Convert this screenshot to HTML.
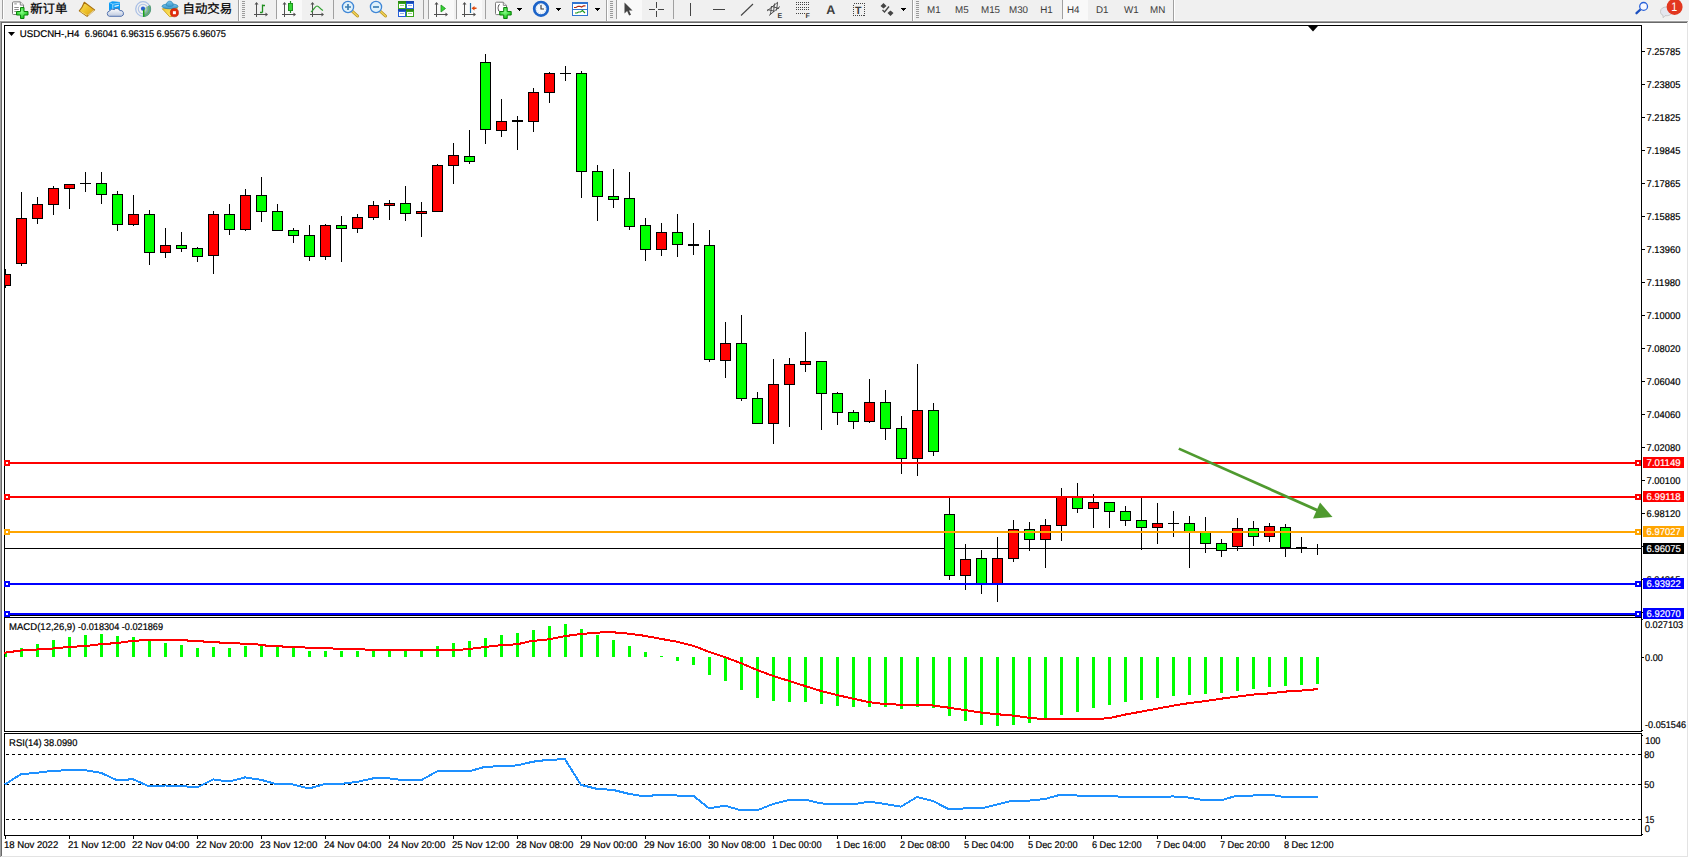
<!DOCTYPE html>
<html><head><meta charset="utf-8"><title>USDCNH-,H4</title>
<style>
html,body{margin:0;padding:0;background:#fff}
#app{position:relative;width:1689px;height:858px;overflow:hidden;background:#fff}
svg{position:absolute;left:0;top:0;display:block}
text{font-family:"Liberation Sans","Noto Sans CJK SC",sans-serif;font-size:9.8px;fill:#000;stroke:#000;stroke-width:.2px;text-rendering:geometricPrecision}
.cj{font-size:12.4px;stroke-width:.25px}
.tf{fill:#3c3c3c;stroke:none}
.w{fill:#fff;stroke:#fff}
</style></head><body><div id="app">
<svg width="1689" height="858" viewBox="0 0 1689 858">
<g shape-rendering="crispEdges">
<rect x="0" y="0" width="1689" height="21" fill="#f0f0f0"/><rect x="0" y="20" width="1689" height="1" fill="#f8f8f8"/>
<rect x="0" y="21" width="1688" height="1" fill="#a0a0a0"/><rect x="1" y="22" width="1686" height="1" fill="#696969"/>
<rect x="0" y="21" width="1" height="836" fill="#a0a0a0"/><rect x="1" y="22" width="1" height="834" fill="#696969"/>
<rect x="1687" y="22" width="1" height="835" fill="#e3e3e3"/><rect x="1" y="856" width="1687" height="1" fill="#e3e3e3"/>
<rect x="1688" y="22" width="1" height="836" fill="#fff"/><rect x="0" y="857" width="1689" height="1" fill="#fff"/>
<rect x="4" y="25" width="1638" height="1"/><rect x="4" y="25" width="1" height="591"/><rect x="4" y="615" width="1638" height="1"/><rect x="1641" y="25" width="1" height="707"/><rect x="1641" y="733" width="1" height="103"/><rect x="4" y="617" width="1638" height="1"/><rect x="4" y="617" width="1" height="115"/><rect x="4" y="731" width="1638" height="1"/><rect x="4" y="733" width="1638" height="1"/><rect x="4" y="733" width="1" height="103"/><rect x="4" y="835" width="1638" height="1"/>
<path d="M1642 51h3v1h-3zM1642 84h3v1h-3zM1642 117h3v1h-3zM1642 150h3v1h-3zM1642 183h3v1h-3zM1642 216h3v1h-3zM1642 249h3v1h-3zM1642 282h3v1h-3zM1642 315h3v1h-3zM1642 348h3v1h-3zM1642 381h3v1h-3zM1642 414h3v1h-3zM1642 447h3v1h-3zM1642 480h3v1h-3zM1642 513h3v1h-3zM1642 546h3v1h-3zM1642 579h3v1h-3zM1642 657h2v1h-2zM1642 612h1v1h-1zM1642 619h1v1h-1zM1642 730h1v1h-1zM1642 735h1v1h-1zM1642 834h1v1h-1z"/>
<path d="M5 836h1v3h-1zM69 836h1v3h-1zM133 836h1v3h-1zM197 836h1v3h-1zM261 836h1v3h-1zM325 836h1v3h-1zM389 836h1v3h-1zM453 836h1v3h-1zM517 836h1v3h-1zM581 836h1v3h-1zM645 836h1v3h-1zM709 836h1v3h-1zM773 836h1v3h-1zM837 836h1v3h-1zM901 836h1v3h-1zM965 836h1v3h-1zM1029 836h1v3h-1zM1093 836h1v3h-1zM1157 836h1v3h-1zM1221 836h1v3h-1zM1285 836h1v3h-1z"/>
<path d="M1308 26h10l-5 5.5z" shape-rendering="auto"/>
<rect x="5" y="548" width="1636" height="1"/>
<path d="M5 269h1v19h-1zM4 274h7v12h-7zM21 192h1v74h-1zM16 218h11v46h-11zM37 197h1v27h-1zM32 204h11v15h-11zM53 186h1v29h-1zM48 188h11v17h-11zM69 184h1v25h-1zM64 184h11v5h-11zM85 172h1v20h-1zM80 183h11v1h-11zM101 172h1v32h-1zM96 183h11v12h-11zM117 191h1v40h-1zM112 194h11v31h-11zM133 195h1v31h-1zM128 214h11v11h-11zM149 210h1v55h-1zM144 214h11v39h-11zM165 228h1v30h-1zM160 245h11v8h-11zM181 232h1v20h-1zM176 245h11v4h-11zM197 247h1v15h-1zM192 248h11v9h-11zM213 211h1v63h-1zM208 214h11v42h-11zM229 204h1v31h-1zM224 214h11v16h-11zM245 189h1v42h-1zM240 195h11v35h-11zM261 177h1v45h-1zM256 195h11v17h-11zM277 204h1v27h-1zM272 211h11v20h-11zM293 228h1v15h-1zM288 230h11v6h-11zM309 225h1v36h-1zM304 235h11v22h-11zM325 224h1v36h-1zM320 225h11v32h-11zM341 216h1v46h-1zM336 225h11v4h-11zM357 214h1v19h-1zM352 217h11v12h-11zM373 201h1v19h-1zM368 205h11v13h-11zM389 200h1v20h-1zM384 203h11v3h-11zM405 186h1v35h-1zM400 203h11v11h-11zM421 202h1v35h-1zM416 211h11v3h-11zM437 164h1v48h-1zM432 165h11v47h-11zM453 143h1v41h-1zM448 155h11v11h-11zM469 130h1v34h-1zM464 156h11v6h-11zM485 54h1v90h-1zM480 62h11v68h-11zM501 99h1v38h-1zM496 121h11v10h-11zM517 116h1v34h-1zM512 120h11v2h-11zM533 88h1v44h-1zM528 92h11v30h-11zM549 72h1v31h-1zM544 73h11v20h-11zM565 66h1v15h-1zM560 73h11v1h-11zM581 71h1v127h-1zM576 73h11v99h-11zM597 165h1v56h-1zM592 171h11v26h-11zM613 169h1v39h-1zM608 196h11v4h-11zM629 172h1v58h-1zM624 198h11v29h-11zM645 218h1v43h-1zM640 225h11v25h-11zM661 223h1v33h-1zM656 232h11v18h-11zM677 214h1v43h-1zM672 232h11v13h-11zM693 223h1v32h-1zM688 244h11v2h-11zM709 230h1v132h-1zM704 245h11v115h-11zM725 322h1v56h-1zM720 343h11v18h-11zM741 315h1v86h-1zM736 343h11v56h-11zM757 392h1v32h-1zM752 398h11v26h-11zM773 359h1v85h-1zM768 384h11v40h-11zM789 358h1v69h-1zM784 364h11v21h-11zM805 332h1v40h-1zM800 361h11v4h-11zM821 361h1v69h-1zM816 361h11v33h-11zM837 392h1v33h-1zM832 393h11v20h-11zM853 410h1v19h-1zM848 412h11v10h-11zM869 379h1v44h-1zM864 402h11v20h-11zM885 390h1v50h-1zM880 402h11v27h-11zM901 416h1v58h-1zM896 428h11v31h-11zM917 364h1v112h-1zM912 410h11v49h-11zM933 403h1v53h-1zM928 410h11v42h-11zM949 498h1v82h-1zM944 514h11v62h-11zM965 544h1v46h-1zM960 559h11v17h-11zM981 550h1v44h-1zM976 558h11v26h-11zM997 537h1v65h-1zM992 558h11v26h-11zM1013 520h1v42h-1zM1008 529h11v30h-11zM1029 522h1v29h-1zM1024 529h11v11h-11zM1045 519h1v49h-1zM1040 525h11v15h-11zM1061 488h1v53h-1zM1056 496h11v30h-11zM1077 483h1v30h-1zM1072 497h11v12h-11zM1093 494h1v34h-1zM1088 502h11v7h-11zM1109 502h1v26h-1zM1104 502h11v10h-11zM1125 506h1v20h-1zM1120 511h11v10h-11zM1141 498h1v52h-1zM1136 520h11v8h-11zM1157 503h1v41h-1zM1152 523h11v5h-11zM1173 511h1v26h-1zM1168 523h11v1h-11zM1189 516h1v52h-1zM1184 523h11v9h-11zM1205 517h1v36h-1zM1200 532h11v12h-11zM1221 539h1v18h-1zM1216 543h11v8h-11zM1237 518h1v33h-1zM1232 528h11v19h-11zM1253 521h1v25h-1zM1248 528h11v9h-11zM1269 523h1v19h-1zM1264 526h11v11h-11zM1285 524h1v33h-1zM1280 527h11v21h-11zM1301 537h1v16h-1zM1296 547h11v1h-11zM1317 544h1v11h-1zM1312 548h11v1h-11z"/>
<path d="M5 275h5v10h-5zM17 219h9v44h-9zM33 205h9v13h-9zM49 189h9v15h-9zM65 185h9v3h-9zM129 215h9v9h-9zM161 246h9v6h-9zM209 215h9v40h-9zM241 196h9v33h-9zM321 226h9v30h-9zM353 218h9v10h-9zM369 206h9v11h-9zM385 204h9v1h-9zM417 212h9v1h-9zM433 166h9v45h-9zM449 156h9v9h-9zM497 122h9v8h-9zM529 93h9v28h-9zM545 74h9v18h-9zM657 233h9v16h-9zM721 344h9v16h-9zM769 385h9v38h-9zM785 365h9v19h-9zM801 362h9v2h-9zM865 403h9v18h-9zM913 411h9v47h-9zM961 560h9v15h-9zM993 559h9v24h-9zM1009 530h9v28h-9zM1041 526h9v13h-9zM1057 497h9v28h-9zM1089 503h9v5h-9zM1153 524h9v3h-9zM1233 529h9v17h-9zM1265 527h9v9h-9z" fill="#f00"/>
<path d="M97 184h9v10h-9zM113 195h9v29h-9zM145 215h9v37h-9zM177 246h9v2h-9zM193 249h9v7h-9zM225 215h9v14h-9zM257 196h9v15h-9zM273 212h9v18h-9zM289 231h9v4h-9zM305 236h9v20h-9zM337 226h9v2h-9zM401 204h9v9h-9zM465 157h9v4h-9zM481 63h9v66h-9zM577 74h9v97h-9zM593 172h9v24h-9zM609 197h9v2h-9zM625 199h9v27h-9zM641 226h9v23h-9zM673 233h9v11h-9zM705 246h9v113h-9zM737 344h9v54h-9zM753 399h9v24h-9zM817 362h9v31h-9zM833 394h9v18h-9zM849 413h9v8h-9zM881 403h9v25h-9zM897 429h9v29h-9zM929 411h9v40h-9zM945 515h9v60h-9zM977 559h9v24h-9zM1025 530h9v9h-9zM1073 498h9v10h-9zM1105 503h9v8h-9zM1121 512h9v8h-9zM1137 521h9v6h-9zM1185 524h9v7h-9zM1201 533h9v10h-9zM1217 544h9v6h-9zM1249 529h9v7h-9zM1281 528h9v19h-9z" fill="#0f0"/>
<rect x="1643" y="543" width="41" height="11"/>
<rect x="5" y="462" width="1636" height="2" fill="#f00"/><rect x="4" y="460" width="6" height="6" fill="#f00"/><rect x="6" y="462" width="2" height="2" fill="#fff"/><rect x="1635" y="460" width="6" height="6" fill="#f00"/><rect x="1637" y="462" width="2" height="2" fill="#fff"/><rect x="1643" y="457" width="41" height="11" fill="#f00"/>
<rect x="5" y="496" width="1636" height="2" fill="#f00"/><rect x="4" y="494" width="6" height="6" fill="#f00"/><rect x="6" y="496" width="2" height="2" fill="#fff"/><rect x="1635" y="494" width="6" height="6" fill="#f00"/><rect x="1637" y="496" width="2" height="2" fill="#fff"/><rect x="1643" y="491" width="41" height="11" fill="#f00"/>
<rect x="5" y="531" width="1636" height="2" fill="#ffa500"/><rect x="4" y="529" width="6" height="6" fill="#ffa500"/><rect x="6" y="531" width="2" height="2" fill="#fff"/><rect x="1635" y="529" width="6" height="6" fill="#ffa500"/><rect x="1637" y="531" width="2" height="2" fill="#fff"/><rect x="1643" y="526" width="41" height="11" fill="#ffa500"/>
<rect x="5" y="583" width="1636" height="2" fill="#00f"/><rect x="4" y="581" width="6" height="6" fill="#00f"/><rect x="6" y="583" width="2" height="2" fill="#fff"/><rect x="1635" y="581" width="6" height="6" fill="#00f"/><rect x="1637" y="583" width="2" height="2" fill="#fff"/><rect x="1643" y="578" width="41" height="11" fill="#00f"/>
<rect x="5" y="613" width="1636" height="2" fill="#00f"/><rect x="4" y="611" width="6" height="6" fill="#00f"/><rect x="6" y="613" width="2" height="2" fill="#fff"/><rect x="1635" y="611" width="6" height="6" fill="#00f"/><rect x="1637" y="613" width="2" height="2" fill="#fff"/><rect x="1643" y="608" width="41" height="11" fill="#00f"/>
<path d="M5 653h2v4h-2zM20 648h3v9h-3zM36 644h3v13h-3zM52 640h3v17h-3zM68 637h3v20h-3zM84 635h3v22h-3zM100 634h3v23h-3zM116 636h3v21h-3zM132 637h3v20h-3zM148 641h3v16h-3zM164 643h3v14h-3zM180 645h3v12h-3zM196 648h3v9h-3zM212 647h3v10h-3zM228 648h3v9h-3zM244 646h3v11h-3zM260 646h3v11h-3zM276 647h3v10h-3zM292 648h3v9h-3zM308 651h3v6h-3zM324 651h3v6h-3zM340 651h3v6h-3zM356 651h3v6h-3zM372 650h3v7h-3zM388 650h3v7h-3zM404 651h3v6h-3zM420 651h3v6h-3zM436 646h3v11h-3zM452 643h3v14h-3zM468 641h3v16h-3zM484 638h3v19h-3zM500 635h3v22h-3zM516 633h3v24h-3zM532 630h3v27h-3zM548 626h3v31h-3zM564 624h3v33h-3zM580 629h3v28h-3zM596 635h3v22h-3zM612 640h3v17h-3zM628 646h3v11h-3zM644 652h3v5h-3zM660 656h3v1h-3zM676 657h3v4h-3zM692 657h3v8h-3zM708 657h3v18h-3zM724 657h3v24h-3zM740 657h3v33h-3zM756 657h3v41h-3zM772 657h3v44h-3zM788 657h3v45h-3zM804 657h3v45h-3zM820 657h3v47h-3zM836 657h3v49h-3zM852 657h3v50h-3zM868 657h3v50h-3zM884 657h3v50h-3zM900 657h3v52h-3zM916 657h3v50h-3zM932 657h3v51h-3zM948 657h3v59h-3zM964 657h3v64h-3zM980 657h3v68h-3zM996 657h3v69h-3zM1012 657h3v68h-3zM1028 657h3v66h-3zM1044 657h3v62h-3zM1060 657h3v58h-3zM1076 657h3v55h-3zM1092 657h3v51h-3zM1108 657h3v48h-3zM1124 657h3v45h-3zM1140 657h3v43h-3zM1156 657h3v41h-3zM1172 657h3v39h-3zM1188 657h3v38h-3zM1204 657h3v37h-3zM1220 657h3v36h-3zM1236 657h3v34h-3zM1252 657h3v32h-3zM1268 657h3v30h-3zM1284 657h3v29h-3zM1300 657h3v28h-3zM1316 657h3v27h-3z" fill="#0f0"/>
<polyline points="4,652.8 21,650.5 37,649.5 53,648.5 69,646.9 85,646.1 101,644.1 117,643.1 133,640.7 151,640.1 181,640.1 197,641.1 213,642.1 229,643.1 245,643.7 261,644.7 270,646.3 294,646.7 310,647.9 330,648.3 341,649.1 389,649.9 451,650.3 469,649.1 479,647.7 491,646.3 501,645.1 517,644.3 531,641.1 549,639.3 565,636.1 581,634.0 597,632.6 612,632.2 628,633.6 644,635.7 661,638.9 677,641.7 693,645.7 709,651.8 725,657.2 741,663.2 757,669.9 773,675.9 789,680.9 805,686.0 821,691.0 837,695.0 853,698.7 869,702.1 885,704.1 901,704.7 917,705.1 933,705.5 949,707.7 965,710.1 981,712.5 997,714.2 1013,715.6 1029,717.8 1045,719.2 1061,719.4 1077,719.4 1093,719.2 1109,718.2 1125,714.6 1141,711.7 1157,708.7 1173,705.7 1189,703.1 1205,701.1 1221,698.7 1237,696.6 1253,694.6 1269,693.4 1285,691.6 1301,690.6 1317,689.2 1318,689.2" fill="none" stroke="#f00" stroke-width="2"/>
<path d="M6 754.5H1641" stroke="#000" stroke-width="1" stroke-dasharray="3 3" fill="none"/><path d="M6 784.5H1641" stroke="#000" stroke-width="1" stroke-dasharray="3 3" fill="none"/><path d="M6 819.5H1641" stroke="#000" stroke-width="1" stroke-dasharray="3 3" fill="none"/>
<polyline points="5,784.3 21,774.2 37,772.8 53,770.8 69,770.2 85,770.2 101,772.8 117,780.3 133,779.2 149,786.3 165,785.5 181,785.9 197,787.5 213,779.4 229,781.5 245,777.4 261,779.8 277,784.3 293,784.5 309,788.5 325,783.9 341,783.9 357,781.9 373,778.4 389,778.4 405,780.3 421,780.3 437,771.4 453,771.4 469,771.4 485,766.8 501,766.2 517,765.4 533,761.7 549,759.7 565,759.3 581,784.9 597,788.9 613,789.9 629,793.9 645,796.4 661,794.5 677,795.5 693,795.5 709,808.4 725,805.6 741,810.4 757,810.4 773,804.0 789,800.0 805,799.6 821,803.4 837,804.4 853,804.4 869,801.6 885,804.0 901,806.6 917,797.0 933,801.0 949,809.4 965,808.4 981,808.4 997,804.6 1013,800.6 1029,800.6 1045,799.0 1061,794.5 1077,795.5 1093,795.5 1109,795.5 1125,797.2 1141,797.2 1157,797.2 1173,796.4 1189,797.6 1205,800.4 1221,800.4 1237,795.5 1253,795.5 1269,794.5 1285,797.2 1301,797.2 1317,797.2 1318,797.2" fill="none" stroke="#1e90ff" stroke-width="2"/>
</g>
<g fill="#4f9a2f" stroke="none"><path d="M1178.2 449.8L1179.4 447.4L1321 510.3L1319.8 512.9z"/><path d="M1320 502.5L1332.5 517L1313 518.5z"/></g>
<text x="19.75" y="37" textLength="59.60" lengthAdjust="spacingAndGlyphs">USDCNH-,H4</text>
<text x="84.85" y="37" textLength="33.20" lengthAdjust="spacingAndGlyphs">6.96041</text>
<text x="120.65" y="37" textLength="33.60" lengthAdjust="spacingAndGlyphs">6.96315</text>
<text x="156.55" y="37" textLength="33.60" lengthAdjust="spacingAndGlyphs">6.95675</text>
<text x="192.45" y="37" textLength="33.60" lengthAdjust="spacingAndGlyphs">6.96075</text>
<path d="M8 32h7l-3.5 4z"/>
<text x="9.05" y="630" textLength="66.30" lengthAdjust="spacingAndGlyphs">MACD(12,26,9)</text>
<text x="78.05" y="630" textLength="41.20" lengthAdjust="spacingAndGlyphs">-0.018304</text>
<text x="121.75" y="630" textLength="41.30" lengthAdjust="spacingAndGlyphs">-0.021869</text>
<text x="9.05" y="746" textLength="32.70" lengthAdjust="spacingAndGlyphs">RSI(14)</text>
<text x="43.85" y="746" textLength="33.50" lengthAdjust="spacingAndGlyphs">38.0990</text>
<text x="1646.55" y="55" textLength="33.80" lengthAdjust="spacingAndGlyphs">7.25785</text>
<text x="1646.55" y="88" textLength="33.80" lengthAdjust="spacingAndGlyphs">7.23805</text>
<text x="1646.55" y="121" textLength="33.80" lengthAdjust="spacingAndGlyphs">7.21825</text>
<text x="1646.55" y="154" textLength="33.80" lengthAdjust="spacingAndGlyphs">7.19845</text>
<text x="1646.55" y="187" textLength="33.80" lengthAdjust="spacingAndGlyphs">7.17865</text>
<text x="1646.55" y="220" textLength="33.80" lengthAdjust="spacingAndGlyphs">7.15885</text>
<text x="1646.55" y="253" textLength="33.80" lengthAdjust="spacingAndGlyphs">7.13960</text>
<text x="1646.55" y="286" textLength="33.80" lengthAdjust="spacingAndGlyphs">7.11980</text>
<text x="1646.55" y="319" textLength="33.80" lengthAdjust="spacingAndGlyphs">7.10000</text>
<text x="1646.55" y="352" textLength="33.80" lengthAdjust="spacingAndGlyphs">7.08020</text>
<text x="1646.55" y="385" textLength="33.80" lengthAdjust="spacingAndGlyphs">7.06040</text>
<text x="1646.55" y="418" textLength="33.80" lengthAdjust="spacingAndGlyphs">7.04060</text>
<text x="1646.55" y="451" textLength="33.80" lengthAdjust="spacingAndGlyphs">7.02080</text>
<text x="1646.55" y="484" textLength="33.80" lengthAdjust="spacingAndGlyphs">7.00100</text>
<text x="1646.55" y="517" textLength="33.80" lengthAdjust="spacingAndGlyphs">6.98120</text>
<text x="1646.55" y="583" textLength="33.80" lengthAdjust="spacingAndGlyphs">6.94215</text>
<text x="1644.95" y="628" textLength="38.30" lengthAdjust="spacingAndGlyphs">0.027103</text>
<text x="1645.05" y="661" textLength="17.80" lengthAdjust="spacingAndGlyphs">0.00</text>
<text x="1645.05" y="728" textLength="41.00" lengthAdjust="spacingAndGlyphs">-0.051546</text>
<text x="1645.15" y="744" textLength="15.30" lengthAdjust="spacingAndGlyphs">100</text>
<text x="1644.15" y="758" textLength="10.10" lengthAdjust="spacingAndGlyphs">80</text>
<text x="1644.15" y="788" textLength="10.10" lengthAdjust="spacingAndGlyphs">50</text>
<text x="1645.15" y="823" textLength="9.10" lengthAdjust="spacingAndGlyphs">15</text>
<text x="1644.85" y="832" textLength="5.20" lengthAdjust="spacingAndGlyphs">0</text>
<text x="3.95" y="848" textLength="54.30" lengthAdjust="spacingAndGlyphs">18 Nov 2022</text>
<text x="67.95" y="848" textLength="57.30" lengthAdjust="spacingAndGlyphs">21 Nov 12:00</text>
<text x="131.95" y="848" textLength="57.30" lengthAdjust="spacingAndGlyphs">22 Nov 04:00</text>
<text x="195.95" y="848" textLength="57.30" lengthAdjust="spacingAndGlyphs">22 Nov 20:00</text>
<text x="259.95" y="848" textLength="57.30" lengthAdjust="spacingAndGlyphs">23 Nov 12:00</text>
<text x="323.95" y="848" textLength="57.30" lengthAdjust="spacingAndGlyphs">24 Nov 04:00</text>
<text x="387.95" y="848" textLength="57.30" lengthAdjust="spacingAndGlyphs">24 Nov 20:00</text>
<text x="451.95" y="848" textLength="57.30" lengthAdjust="spacingAndGlyphs">25 Nov 12:00</text>
<text x="515.95" y="848" textLength="57.30" lengthAdjust="spacingAndGlyphs">28 Nov 08:00</text>
<text x="579.95" y="848" textLength="57.30" lengthAdjust="spacingAndGlyphs">29 Nov 00:00</text>
<text x="643.95" y="848" textLength="57.30" lengthAdjust="spacingAndGlyphs">29 Nov 16:00</text>
<text x="707.95" y="848" textLength="57.30" lengthAdjust="spacingAndGlyphs">30 Nov 08:00</text>
<text x="771.95" y="848" textLength="49.60" lengthAdjust="spacingAndGlyphs">1 Dec 00:00</text>
<text x="835.95" y="848" textLength="49.60" lengthAdjust="spacingAndGlyphs">1 Dec 16:00</text>
<text x="899.95" y="848" textLength="49.60" lengthAdjust="spacingAndGlyphs">2 Dec 08:00</text>
<text x="963.95" y="848" textLength="49.60" lengthAdjust="spacingAndGlyphs">5 Dec 04:00</text>
<text x="1027.95" y="848" textLength="49.60" lengthAdjust="spacingAndGlyphs">5 Dec 20:00</text>
<text x="1091.95" y="848" textLength="49.60" lengthAdjust="spacingAndGlyphs">6 Dec 12:00</text>
<text x="1155.95" y="848" textLength="49.60" lengthAdjust="spacingAndGlyphs">7 Dec 04:00</text>
<text x="1219.95" y="848" textLength="49.60" lengthAdjust="spacingAndGlyphs">7 Dec 20:00</text>
<text x="1283.95" y="848" textLength="49.60" lengthAdjust="spacingAndGlyphs">8 Dec 12:00</text>
<g shape-rendering="crispEdges"><rect x="1643" y="578" width="41" height="11" fill="#00f"/></g>
<text x="1646.55" y="466" textLength="34.10" lengthAdjust="spacingAndGlyphs" class="w">7.01149</text>
<text x="1646.55" y="500" textLength="34.10" lengthAdjust="spacingAndGlyphs" class="w">6.99118</text>
<text x="1646.55" y="535" textLength="34.10" lengthAdjust="spacingAndGlyphs" class="w">6.97027</text>
<text x="1646.55" y="552" textLength="34.10" lengthAdjust="spacingAndGlyphs" class="w">6.96075</text>
<text x="1646.55" y="587" textLength="34.10" lengthAdjust="spacingAndGlyphs" class="w">6.93922</text>
<text x="1646.55" y="617" textLength="34.10" lengthAdjust="spacingAndGlyphs" class="w">6.92070</text>

<g shape-rendering="crispEdges">
<rect x="277" y="0" width="25" height="20" fill="#f9f9f9"/>
<rect x="429" y="0" width="25" height="20" fill="#f9f9f9"/>
<rect x="457" y="0" width="25" height="20" fill="#f9f9f9"/>
<rect x="617" y="0" width="25" height="20" fill="#f9f9f9"/>
<rect x="1063" y="0" width="25" height="20" fill="#f9f9f9"/>
<rect x="2" y="0" width="1" height="19" fill="#a0a0a0"/>
<rect x="276" y="0" width="1" height="19" fill="#a0a0a0"/>
<rect x="333" y="0" width="1" height="19" fill="#a0a0a0"/>
<rect x="423" y="0" width="1" height="19" fill="#a0a0a0"/>
<rect x="428" y="0" width="1" height="19" fill="#a0a0a0"/>
<rect x="456" y="0" width="1" height="19" fill="#a0a0a0"/>
<rect x="485" y="0" width="1" height="19" fill="#a0a0a0"/>
<rect x="616" y="0" width="1" height="19" fill="#a0a0a0"/>
<rect x="673" y="0" width="1" height="19" fill="#a0a0a0"/>
<rect x="1062" y="0" width="1" height="19" fill="#a0a0a0"/>
<rect x="3" y="0" width="1" height="19" fill="#fff"/>
<rect x="238" y="0" width="1" height="21" fill="#a0a0a0"/><rect x="239" y="0" width="1" height="21" fill="#fff"/>
<rect x="606" y="0" width="1" height="21" fill="#a0a0a0"/><rect x="607" y="0" width="1" height="21" fill="#fff"/>
<rect x="912" y="0" width="1" height="21" fill="#a0a0a0"/><rect x="913" y="0" width="1" height="21" fill="#fff"/>
<rect x="1173" y="0" width="1" height="21" fill="#a0a0a0"/><rect x="1174" y="0" width="1" height="21" fill="#fff"/>
<rect x="242" y="1" width="3" height="1" fill="#9a9a9a"/>
<rect x="242" y="3" width="3" height="1" fill="#9a9a9a"/>
<rect x="242" y="5" width="3" height="1" fill="#9a9a9a"/>
<rect x="242" y="7" width="3" height="1" fill="#9a9a9a"/>
<rect x="242" y="9" width="3" height="1" fill="#9a9a9a"/>
<rect x="242" y="11" width="3" height="1" fill="#9a9a9a"/>
<rect x="242" y="13" width="3" height="1" fill="#9a9a9a"/>
<rect x="242" y="15" width="3" height="1" fill="#9a9a9a"/>
<rect x="242" y="17" width="3" height="1" fill="#9a9a9a"/>
<rect x="610" y="1" width="3" height="1" fill="#9a9a9a"/>
<rect x="610" y="3" width="3" height="1" fill="#9a9a9a"/>
<rect x="610" y="5" width="3" height="1" fill="#9a9a9a"/>
<rect x="610" y="7" width="3" height="1" fill="#9a9a9a"/>
<rect x="610" y="9" width="3" height="1" fill="#9a9a9a"/>
<rect x="610" y="11" width="3" height="1" fill="#9a9a9a"/>
<rect x="610" y="13" width="3" height="1" fill="#9a9a9a"/>
<rect x="610" y="15" width="3" height="1" fill="#9a9a9a"/>
<rect x="610" y="17" width="3" height="1" fill="#9a9a9a"/>
<rect x="916" y="1" width="3" height="1" fill="#9a9a9a"/>
<rect x="916" y="3" width="3" height="1" fill="#9a9a9a"/>
<rect x="916" y="5" width="3" height="1" fill="#9a9a9a"/>
<rect x="916" y="7" width="3" height="1" fill="#9a9a9a"/>
<rect x="916" y="9" width="3" height="1" fill="#9a9a9a"/>
<rect x="916" y="11" width="3" height="1" fill="#9a9a9a"/>
<rect x="916" y="13" width="3" height="1" fill="#9a9a9a"/>
<rect x="916" y="15" width="3" height="1" fill="#9a9a9a"/>
<rect x="916" y="17" width="3" height="1" fill="#9a9a9a"/>
<path d="M517 8h5v1h-1v1h-1v1h-1v-1h-1v-1h-1z" fill="#000"/>
<path d="M556 8h5v1h-1v1h-1v1h-1v-1h-1v-1h-1z" fill="#000"/>
<path d="M595 8h5v1h-1v1h-1v1h-1v-1h-1v-1h-1z" fill="#000"/>
<path d="M901 8h5v1h-1v1h-1v1h-1v-1h-1v-1h-1z" fill="#000"/>
</g>
<defs><radialGradient id="pg" cx=".45" cy=".4" r=".6"><stop offset="0" stop-color="#8aff8a"/><stop offset="1" stop-color="#14c414"/></radialGradient></defs>
<g><path d="M13.500 1.900h6.800l3.200 3.200v8.400q0 1 -1 1h-9q-1 0 -1 -1v-10.600q0 -1 1 -1z" fill="#fff" stroke="#7a7a7a"/><path d="M20.300 1.900v3.200h3.200" fill="#eee" stroke="#7a7a7a" stroke-width=".9"/><path d="M14.300 3.900h2.500M14.300 7.500h4.500M14.300 9.500h4.500M14.300 11.500h2" stroke="#8c8c8c" fill="none"/><path d="M20.500 7.500h3.500v4h4v3.500h-4v3.500h-3.500v-3.500h-4v-3.500h4z" fill="url(#pg)" stroke="#0b820b" stroke-width="1"/></g>
<defs><linearGradient id="gb" x1="0" y1="0" x2="1" y2="1"><stop offset="0" stop-color="#fbe262"/><stop offset=".5" stop-color="#eec22a"/><stop offset="1" stop-color="#d79a12"/></linearGradient><linearGradient id="cl" x1="0" y1="0" x2="0" y2="1"><stop offset="0" stop-color="#fff"/><stop offset="1" stop-color="#bcc8de"/></linearGradient><radialGradient id="sg" cx="143" cy="9" r="8" gradientUnits="userSpaceOnUse"><stop offset="0" stop-color="#e2f0e2" stop-opacity=".9"/><stop offset="1" stop-color="#3c9a3c"/></radialGradient><linearGradient id="ht" x1="0" y1="0" x2="0" y2="1"><stop offset="0" stop-color="#7cc4ea"/><stop offset="1" stop-color="#3a98cc"/></linearGradient><linearGradient id="fc" x1="0" y1="0" x2="1" y2="1"><stop offset="0" stop-color="#f2c832"/><stop offset="1" stop-color="#fff27a"/></linearGradient></defs>
<g><path d="M84.300 2.200L94.600 9.900L87.100 16.300L79.300 10.900C81 9 83 6 84.300 2.200z" fill="url(#gb)" stroke="#a8700c" stroke-width="1.100" stroke-linejoin="round"/><path d="M88 15.300L94 10.300" stroke="#e6d6a0" stroke-width="1.100" fill="none"/><path d="M80.500 11.300l6.500 4" stroke="#f6de7a" stroke-width=".9" fill="none"/></g>
<g><path d="M109 2.400l3.500 -1.200l7.500 .800v8.500h-11z" fill="#0f9cf4"/><path d="M109 2.400l3.800 1.800l7.200 -1.200" stroke="#9fdcff" stroke-width=".8" fill="none"/><path d="M112.800 4.200v6" stroke="#c8ecff" stroke-width=".8"/><path d="M114.500 6.300l4.300 -1" stroke="#e4f5ff" stroke-width="1.300"/><path d="M109.300 16.300a2.700 2.700 0 0 1 .400 -5.300a3 3 0 0 1 4.400 -1.300a3.300 3.300 0 0 1 5.700 .900a2.900 2.900 0 0 1 1.500 5.700z" fill="url(#cl)" stroke="#4668a8" stroke-width=".9"/></g>
<g fill="none"><path d="M143 9L143 17A8 8 0 0 0 150 5z" fill="url(#sg)"/><circle cx="143" cy="9" r="7.300" stroke="#6f98dc" stroke-opacity=".55" stroke-width="1.200"/><circle cx="143" cy="9" r="4.700" stroke="#6f98dc" stroke-opacity=".5" stroke-width="1.100"/><circle cx="143" cy="8.700" r="2.100" fill="#2a5fd0" stroke="none"/><path d="M143.700 9.500v7.300" stroke="#18a018" stroke-width="1.500"/></g>
<g><path d="M162.300 8.800L177.600 7.600L172 16.500L169.600 16.700z" fill="url(#fc)" stroke="#c8960e" stroke-width=".8" stroke-linejoin="round"/><ellipse cx="170" cy="6.300" rx="8" ry="2.500" fill="url(#ht)" stroke="#2a86b8" stroke-width=".8"/><path d="M166.200 5.600c0 -6 7 -6 7 0c-2 1.200 -5 1.200 -7 0z" fill="url(#ht)" stroke="#2a86b8" stroke-width=".7"/><circle cx="174.400" cy="12.700" r="4.100" fill="#e22c0c" stroke="#b81c04" stroke-width=".6"/><rect x="172.900" y="11.200" width="3" height="3" fill="#fff"/></g>
<g><path d="M256.5 3v14M254 14.500h13" stroke="#505050" fill="none" shape-rendering="crispEdges"/><path d="M254.5 4.500l2 -2.500l2 2.500zM265.5 12.500l2.500 2l-2.500 2z" fill="#505050"/><path d="M262.500 4.500v8M260 12.500h2.500M262.500 5.500h2.500" stroke="#1f8f1f" stroke-width="1.300" fill="none"/></g>
<g><path d="M284.5 3v14M282 14.500h13" stroke="#505050" fill="none" shape-rendering="crispEdges"/><path d="M282.5 4.500l2 -2.500l2 2.500zM293.5 12.500l2.500 2l-2.500 2z" fill="#505050"/><path d="M290.500 1v12" stroke="#1f8f1f" stroke-width="1.200"/><rect x="288.500" y="3.500" width="4" height="7" fill="#35d535" stroke="#1f8f1f"/></g>
<g><path d="M312.5 3v14M310 14.500h13" stroke="#505050" fill="none" shape-rendering="crispEdges"/><path d="M310.5 4.500l2 -2.500l2 2.500zM321.5 12.500l2.500 2l-2.500 2z" fill="#505050"/><path d="M311 12c3 -2 4 -6 6 -6s3 3 6 4.500" stroke="#2f9f2f" stroke-width="1.200" fill="none"/></g>
<g><path d="M352 11l5.500 5" stroke="#b8901c" stroke-width="3" stroke-linecap="round"/><path d="M352 11l5.500 5" stroke="#f1d55a" stroke-width="1.400" stroke-linecap="round"/><circle cx="348" cy="7" r="5.600" fill="#dff1fb" stroke="#3f86d6" stroke-width="1.300"/><path d="M345 7h6M348 4v6" stroke="#3f7fb3" stroke-width="1.700" fill="none"/></g>
<g><path d="M380 11l5.500 5" stroke="#b8901c" stroke-width="3" stroke-linecap="round"/><path d="M380 11l5.500 5" stroke="#f1d55a" stroke-width="1.400" stroke-linecap="round"/><circle cx="376" cy="7" r="5.600" fill="#dff1fb" stroke="#3f86d6" stroke-width="1.300"/><path d="M373 7h6" stroke="#3f7fb3" stroke-width="1.700" fill="none"/></g>
<g shape-rendering="crispEdges">
<rect x="398" y="1" width="8" height="8" fill="#3aa51e"/><rect x="398" y="1" width="8" height="2" fill="#2b8a12"/><rect x="399" y="4" width="6" height="4" fill="#fff"/><rect x="400" y="5" width="4" height="1" fill="#3aa51e" opacity=".5"/>
<rect x="406" y="1" width="8" height="8" fill="#2660d8"/><rect x="406" y="1" width="8" height="2" fill="#1646b0"/><rect x="407" y="4" width="6" height="4" fill="#fff"/><rect x="408" y="5" width="4" height="1" fill="#2660d8" opacity=".5"/>
<rect x="398" y="9" width="8" height="8" fill="#2660d8"/><rect x="398" y="9" width="8" height="2" fill="#1646b0"/><rect x="399" y="12" width="6" height="4" fill="#fff"/><rect x="400" y="13" width="4" height="1" fill="#2660d8" opacity=".5"/>
<rect x="406" y="9" width="8" height="8" fill="#3aa51e"/><rect x="406" y="9" width="8" height="2" fill="#2b8a12"/><rect x="407" y="12" width="6" height="4" fill="#fff"/><rect x="408" y="13" width="4" height="1" fill="#3aa51e" opacity=".5"/>
</g>
<g><path d="M436.5 3v14M434 14.500h13" stroke="#505050" fill="none" shape-rendering="crispEdges"/><path d="M434.5 4.500l2 -2.500l2 2.500zM445.5 12.500l2.500 2l-2.500 2z" fill="#505050"/><path d="M441 5l4.500 3.500l-4.500 3.500z" fill="#35d535" stroke="#1f8f1f" stroke-width=".8"/></g>
<g><path d="M464.5 3v14M462 14.500h13" stroke="#505050" fill="none" shape-rendering="crispEdges"/><path d="M462.5 4.500l2 -2.500l2 2.500zM473.5 12.500l2.500 2l-2.500 2z" fill="#505050"/><path d="M470.500 3v10" stroke="#1e6fa8" stroke-width="1.200"/><path d="M471.500 8.300l3 -2.300v1.600h2v1.400h-2v1.600z" fill="#e0480c"/></g>
<g><path d="M496.500 2.200h6.800l3.200 3.200v8.200q0 1 -1 1h-9q-1 0 -1 -1v-10.400q0 -1 1 -1z" fill="#fff" stroke="#7a7a7a"/><path d="M503.300 2.200v3.200h3.200" fill="#eee" stroke="#7a7a7a" stroke-width=".9"/><path d="M499.800 4.500c-2 0 -1 3 -2 3.500c1 .5 0 3.500 2 3.500" stroke="#4a4a4a" fill="none" stroke-width=".9"/><path d="M503.700 7.500h3.500v4h4v3.500h-4v3.500h-3.500v-3.500h-4v-3.500h4z" fill="url(#pg)" stroke="#0b820b" stroke-width="1"/></g>
<g><circle cx="541" cy="8.800" r="6.800" fill="#f4f8fc" stroke="#1c63c8" stroke-width="2.700"/><circle cx="541" cy="8.800" r="4.600" fill="none" stroke="#8aa4c4" stroke-width=".7" stroke-dasharray=".7 1.7"/><path d="M541 5v4h3" stroke="#333" stroke-width="1.100" fill="none"/></g>
<g shape-rendering="crispEdges"><rect x="572" y="2" width="16" height="14" fill="#2f74d0"/><rect x="573" y="4" width="14" height="11" fill="#fff"/><rect x="573" y="9" width="14" height="1" fill="#2f74d0"/></g><path d="M574 7.500h2l2 -1.200h2l1.500 .8l2 -1.200h2" stroke="#b02a10" stroke-width="1.200" fill="none"/><path d="M575 13h2l1.500 -1h2l2 -1.500l2.500 2.500" stroke="#1f9a1f" stroke-width="1.200" fill="none"/>
<path d="M624.500 2.500v11l2.600 -2.400l2 4.500l1.900 -.8l-2 -4.400h3.500z" fill="#444"/>
<path d="M656.500 2v6M656.500 11v6M649 9.500h6M658 9.500h6" stroke="#444" stroke-width="1" fill="none" shape-rendering="crispEdges"/>
<path d="M690.500 3v13M713 9.500h12" stroke="#444" stroke-width="1" fill="none" shape-rendering="crispEdges"/><path d="M741 15.500L753 4" stroke="#444" stroke-width="1.100" fill="none"/>
<g stroke="#444" fill="none" stroke-width=".9"><path d="M767 11l11 -9M769 15.500l11 -9M771.500 6l-1 8.500M774.500 3.500l-1 8.500M777.500 3l-1 7.500M767.500 9.500l6 1.500M772 6.500l7 2"/></g>
<text x="777.500" y="18" style="font-size:7px;font-weight:bold" class="tf">E</text>
<g stroke="#444" stroke-dasharray="1 1" shape-rendering="crispEdges"><path d="M796 2.500h14M796 4.500h14M796 7.500h14M796 9.500h14M796 13.500h9"/></g>
<text x="805.500" y="18" style="font-size:7px;font-weight:bold" class="tf">F</text>
<text x="826.300" y="14" style="font-size:12.500px;font-weight:bold" class="tf">A</text>
<rect x="853.500" y="3.500" width="11" height="12" fill="none" stroke="#444" stroke-dasharray="1 1" shape-rendering="crispEdges"/><text x="855" y="13.500" style="font-size:10.500px;font-weight:bold" class="tf">T</text>
<g fill="#444"><path d="M883.500 3l3 3l-3 2.500l-3 -2.500zM890.500 10.500l3 2.500l-3 3l-3 -3z"/><path d="M882.500 10l2 2l4.500 -5.500" stroke="#444" stroke-width="1.300" fill="none"/></g>
<text x="927" y="13" class="tf">M1</text>
<text x="955" y="13" class="tf">M5</text>
<text x="981" y="13" class="tf">M15</text>
<text x="1009" y="13" class="tf">M30</text>
<text x="1040.3" y="13" class="tf">H1</text>
<text x="1067" y="13" class="tf">H4</text>
<text x="1096" y="13" class="tf">D1</text>
<text x="1124" y="13" class="tf">W1</text>
<text x="1150" y="13" class="tf">MN</text>
<text x="30.200" y="12.700" class="cj">新订单</text><text x="182.500" y="12.700" class="cj">自动交易</text>
<g fill="none"><path d="M1641 9l-4.500 4.200" stroke="#1c50c0" stroke-width="2.300" stroke-linecap="round"/><circle cx="1643.600" cy="6.400" r="3.900" fill="#f8f8ff" stroke="#2a62d8" stroke-width="1.300"/></g>
<g><path d="M1660.500 11.500c0 -6 11.500 -6 11.500 0c0 3.500 -4 4.500 -7 4.200l-1.800 2l-.2 -2.300c-1.500 -.6 -2.500 -2 -2.500 -3.900z" fill="#e4e6ee" stroke="#bdbdbd" stroke-width=".8"/><circle cx="1674.600" cy="6.900" r="8" fill="#e2371f"/><text x="1671.200" y="11.200" style="font-size:12.500px;stroke:none" textLength="6" lengthAdjust="spacingAndGlyphs" class="w">1</text></g>
</svg>
</div></body></html>
